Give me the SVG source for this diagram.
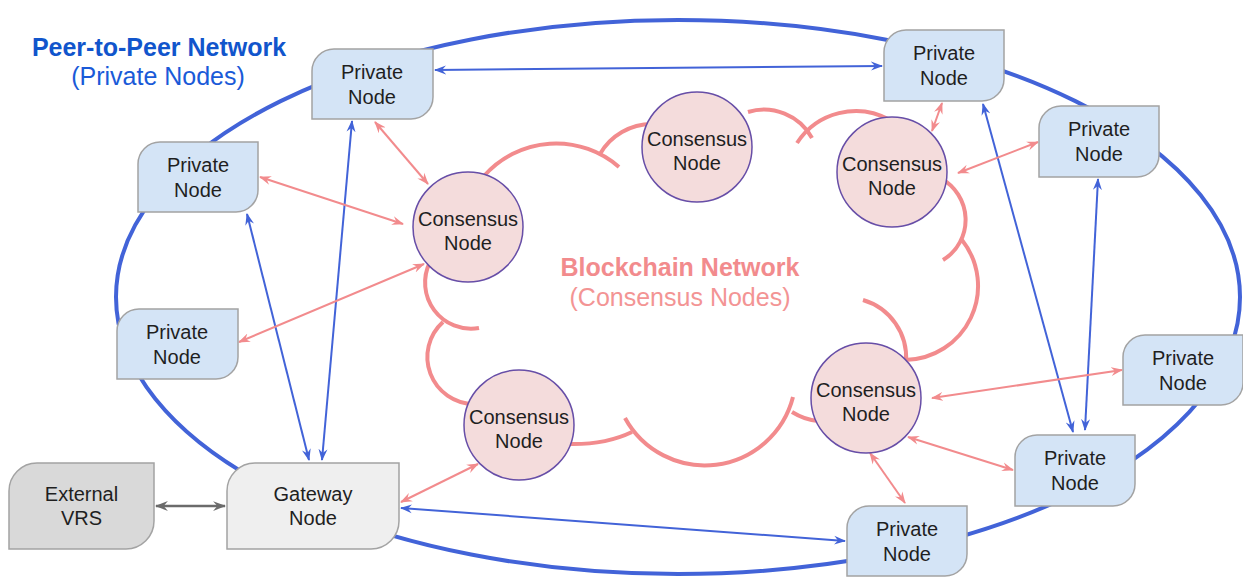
<svg xmlns="http://www.w3.org/2000/svg" width="1243" height="577" viewBox="0 0 1243 577">
<style>
.t{font-family:"Liberation Sans",Arial,sans-serif;font-size:20px;fill:#1f1f1f;text-anchor:middle}
.pn{fill:#d4e4f6;stroke:#a3a3a3;stroke-width:1.5}
.cn{fill:#f4dcdc;stroke:#674ea7;stroke-width:1.5}
.cloud{fill:none;stroke:#f28b8d;stroke-width:4;stroke-linecap:butt}
.bl{stroke:#4263d8;stroke-width:2;fill:none;marker-start:url(#ab);marker-end:url(#ab)}
.pk{stroke:#f28b8d;stroke-width:2;fill:none;marker-start:url(#ap);marker-end:url(#ap)}
.gr{stroke:#6b6b6b;stroke-width:2.5;fill:none;marker-start:url(#ag);marker-end:url(#ag)}
.h{font-family:"Liberation Sans",Arial,sans-serif;font-size:25px;text-anchor:middle}
</style>
<defs>
<marker id="ab" viewBox="0 0 12 10" refX="11" refY="5" markerWidth="12" markerHeight="10" markerUnits="userSpaceOnUse" orient="auto-start-reverse"><path d="M0,0.5 L12,5 L0,9.5 L4,5 Z" fill="#4263d8"/></marker>
<marker id="ap" viewBox="0 0 12 10" refX="11" refY="5" markerWidth="12" markerHeight="10" markerUnits="userSpaceOnUse" orient="auto-start-reverse"><path d="M0,0.5 L12,5 L0,9.5 L4,5 Z" fill="#f28b8d"/></marker>
<marker id="ag" viewBox="0 0 12 10" refX="11" refY="5" markerWidth="13" markerHeight="11" markerUnits="userSpaceOnUse" orient="auto-start-reverse"><path d="M0,0.5 L12,5 L0,9.5 L4,5 Z" fill="#6b6b6b"/></marker>
</defs>
<rect width="1243" height="577" fill="#ffffff"/>

<g id="p2p-ring">
<ellipse cx="678" cy="297" rx="562" ry="277" fill="none" stroke="#4263d8" stroke-width="4"/>
</g>
<g id="p2p-label">
<text class="h" x="159" y="56" font-weight="bold" fill="#1155cc">Peer-to-Peer Network</text>
<text class="h" x="158" y="85" fill="#1a5ad8">(Private Nodes)</text>
</g>

<g id="blockchain-cloud">
<path class="cloud" d="M484,176 A96 96 0 0 1 619,167"/>
<path class="cloud" d="M600,154 A60 60 0 0 1 652,124"/>
<path class="cloud" d="M748,112 A55 55 0 0 1 812,138"/>
<path class="cloud" d="M797,143 A70 70 0 0 1 890,120"/>
<path class="cloud" d="M940,178 A47 47 0 0 1 943,260"/>
<path class="cloud" d="M962,240 A74 74 0 0 1 905,360"/>
<path class="cloud" d="M863,300 A60 60 0 0 1 906,362"/>
<path class="cloud" d="M625,418 A91 91 0 0 0 793,397"/>
<path class="cloud" d="M792,412 Q805,420 818,421"/>
<path class="cloud" d="M632,432 Q605,445 568,444"/>
<path class="cloud" d="M443,322 A47 47 0 0 0 474,404"/>
<path class="cloud" d="M430,262 A46 46 0 0 0 479,328"/>
</g>
<g id="blockchain-label">
<text class="h" x="680" y="276" font-weight="bold" fill="#f28b8d">Blockchain Network</text>
<text class="h" x="680" y="306" fill="#f39494">(Consensus Nodes)</text>
</g>

<g id="connectors">
<line class="bl" x1="435" y1="70" x2="882" y2="66"/>
<line class="bl" x1="352" y1="121" x2="322" y2="460"/>
<line class="bl" x1="247" y1="214" x2="309" y2="460"/>
<line class="bl" x1="983" y1="104" x2="1073" y2="432"/>
<line class="bl" x1="1098" y1="179" x2="1085" y2="430"/>
<line class="bl" x1="401" y1="508" x2="845" y2="541"/>
<line class="gr" x1="156" y1="506" x2="225" y2="506"/>
<line class="pk" x1="375" y1="122" x2="428" y2="184"/>
<line class="pk" x1="260" y1="177" x2="403" y2="224"/>
<line class="pk" x1="239" y1="342" x2="424" y2="264"/>
<line class="pk" x1="942" y1="103" x2="932" y2="131"/>
<line class="pk" x1="1038" y1="142" x2="958" y2="173"/>
<line class="pk" x1="932" y1="398" x2="1122" y2="370"/>
<line class="pk" x1="908" y1="437" x2="1013" y2="470"/>
<line class="pk" x1="870" y1="453" x2="905" y2="503"/>
<line class="pk" x1="478" y1="464" x2="401" y2="502"/>
</g>

<g id="cn-left"><circle class="cn" cx="468" cy="227" r="55"/><text class="t" x="468" y="226">Consensus</text><text class="t" x="468" y="250">Node</text></g>
<g id="cn-top"><circle class="cn" cx="697" cy="147" r="55"/><text class="t" x="697" y="146">Consensus</text><text class="t" x="697" y="170">Node</text></g>
<g id="cn-topright"><circle class="cn" cx="892" cy="172" r="55"/><text class="t" x="892" y="171">Consensus</text><text class="t" x="892" y="195">Node</text></g>
<g id="cn-bottomright"><circle class="cn" cx="866" cy="398" r="55"/><text class="t" x="866" y="397">Consensus</text><text class="t" x="866" y="421">Node</text></g>
<g id="cn-bottom"><circle class="cn" cx="519" cy="425" r="55"/><text class="t" x="519" y="424">Consensus</text><text class="t" x="519" y="448">Node</text></g>

<g id="pn-topleft"><path class="pn" d="M334,49 H433 V97 A22 22 0 0 1 411,119 H312 V71 A22 22 0 0 1 334,49 Z"/><text class="t" x="372" y="79">Private</text><text class="t" x="372" y="104">Node</text></g>
<g id="pn-left1"><path class="pn" d="M160,142 H258 V190 A22 22 0 0 1 236,212 H138 V164 A22 22 0 0 1 160,142 Z"/><text class="t" x="198" y="172">Private</text><text class="t" x="198" y="197">Node</text></g>
<g id="pn-left2"><path class="pn" d="M139,309 H238 V357 A22 22 0 0 1 216,379 H117 V331 A22 22 0 0 1 139,309 Z"/><text class="t" x="177" y="339">Private</text><text class="t" x="177" y="364">Node</text></g>
<g id="pn-topright"><path class="pn" d="M906,30 H1004 V79 A22 22 0 0 1 982,101 H884 V52 A22 22 0 0 1 906,30 Z"/><text class="t" x="944" y="60">Private</text><text class="t" x="944" y="85">Node</text></g>
<g id="pn-right1"><path class="pn" d="M1061,106 H1159 V155 A22 22 0 0 1 1137,177 H1039 V128 A22 22 0 0 1 1061,106 Z"/><text class="t" x="1099" y="136">Private</text><text class="t" x="1099" y="161">Node</text></g>
<g id="pn-right2"><path class="pn" d="M1145,335 H1243 V383 A22 22 0 0 1 1221,405 H1123 V357 A22 22 0 0 1 1145,335 Z"/><text class="t" x="1183" y="365">Private</text><text class="t" x="1183" y="390">Node</text></g>
<g id="pn-right3"><path class="pn" d="M1037,435 H1135 V484 A22 22 0 0 1 1113,506 H1015 V457 A22 22 0 0 1 1037,435 Z"/><text class="t" x="1075" y="465">Private</text><text class="t" x="1075" y="490">Node</text></g>
<g id="pn-bottom"><path class="pn" d="M869,506 H967 V554 A22 22 0 0 1 945,576 H847 V528 A22 22 0 0 1 869,506 Z"/><text class="t" x="907" y="536">Private</text><text class="t" x="907" y="561">Node</text></g>

<g id="gateway"><path d="M255,463 H399 V521 A28 28 0 0 1 371,549 H227 V491 A28 28 0 0 1 255,463 Z" fill="#efefef" stroke="#a3a3a3" stroke-width="1.5"/><text class="t" x="313" y="501">Gateway</text><text class="t" x="313" y="525">Node</text></g>
<g id="external-vrs"><path d="M37,463 H154 V521 A28 28 0 0 1 126,549 H9 V491 A28 28 0 0 1 37,463 Z" fill="#d9d9d9" stroke="#a3a3a3" stroke-width="1.5"/><text class="t" x="81.5" y="501">External</text><text class="t" x="81.5" y="525">VRS</text></g>
</svg>
